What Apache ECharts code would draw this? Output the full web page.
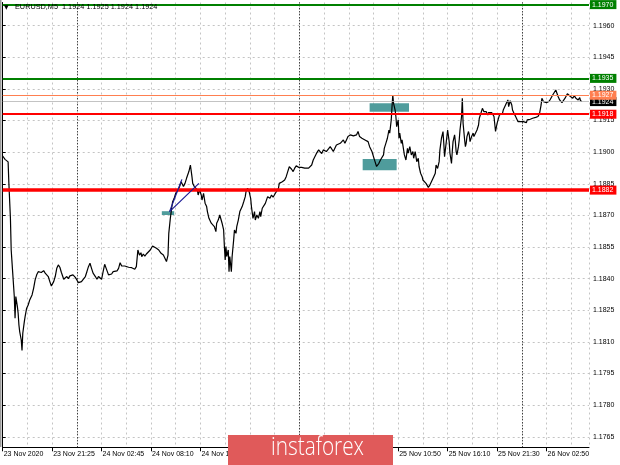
<!DOCTYPE html>
<html><head><meta charset="utf-8">
<script src="https://cdn.jsdelivr.net/npm/echarts@6/dist/echarts.min.js"></script>
<style>html,body{margin:0;padding:0;background:#fff}#c{width:620px;height:465px}</style>
</head><body><div id="c"></div>
<script>
// ---- data (bar index from first visible M5 bar, close price) ----
const barIndex = [0,2,3,5,7,8,10,11,13,15,16,17,19,20,21,22,24,25,26,28,29,31,33,35,38,40,42,44,46,48,50,53,55,57,59,61,63,66,68,70,72,74,76,79,81,83,85,87,89,91,94,96,98,100,102,104,107,109,111,113,115,117,120,122,124,126,128,130,132,135,137,139,141,143,145,148,150,152,154,156,158,160,163,165,167,169,171,173,175,177,179,180,182,184,186,
188,191,194,196,199,202,205,208,210,212,214,215,217,219,220,222,224,226,227,229,231,233,234,236,238,239,241,243,245,246,248,250,252,253,255,257,258,260,262,264,265,267,269,270,272,274,276,277,279,281,283,284,286,287,288,289,290,292,293,294,296,297,299,300,302,303,305,307,308,310,312,314,315,317,319,321,322,324,326,327,329,331,333,334,336,338,340,341,343,345,346,348,350,352,353,355,357,358,360,362,364,365,367,369,371,
374,376,378,380,383,385,387,389,391,393,396,398,400,402,404,406,409,411,413,415,417,419,421,424,426,428,430,432,434,437,439,441,443,445,447,450,452,454,456,458,460,462,465,467,469,471,473,475,478,480,482,484,486,487,489,491,493,494,496,498,500,501,503,504,505,506,508,509,510,512,513,514,516,517,519,520,522,524,525,527,529,531,532,534,536,538,539,541,543,544,546,548,550,551,553,555,556,558,
560,561,563,565,566,568,570,571,572,574,576,577,578,579,581,582,583,585,586,587,588,590,591,592,594,595,596,598,599,600,601,603,604,605,607,609,610,612,614,616,617,619,621,623,624,626,628,629,631,633,635,636,638,640,642,643,645,647,648,650,652,654,655,657,659,660,662,664,666,667,669,671,673,674,676,678,679,681,683,685,686,688,690,692,693,695,697,698,700,702,704,705,707,709,711,712,714,716,717,719,721,723,724,726,728,730,731,733,735,736,738,740,742,743,745,747,748,750];
const closePrice = [1.18982,1.18976,1.18966,1.18960,1.18954,1.18852,1.18686,1.18536,1.18425,1.18315,1.18212,1.18315,1.18267,1.18236,1.18180,1.18149,1.18109,1.18059,1.18141,1.18196,1.18220,1.18260,1.18275,1.18299,1.18323,1.18354,1.18394,1.18418,1.18433,1.18441,1.18429,1.18438,1.18426,1.18429,1.18410,1.18386,1.18365,1.18386,1.18410,1.18449,1.18465,1.18454,1.18429,1.18397,1.18391,1.18410,1.18400,1.18413,1.18406,1.18418,1.18406,1.18394,1.18381,1.18375,1.18386,1.18394,1.18410,1.18433,1.18457,1.18473,1.18449,1.18426,1.18410,1.18397,1.18410,1.18418,1.18397,1.18433,1.18468,1.18438,1.18418,1.18425,1.18422,1.18433,1.18425,1.18437,1.18449,1.18476,1.18460,1.18454,1.18460,1.18465,1.18454,1.18449,1.18452,1.18449,1.18445,1.18457,1.18536,1.18512,1.18523,1.18504,1.18517,1.18507,1.18517,
1.18520,1.18536,1.18555,1.18560,1.18544,1.18536,1.18520,1.18512,1.18497,1.18481,1.18512,1.18615,1.18686,1.18742,1.18765,1.18781,1.18805,1.18797,1.18821,1.18837,1.18860,1.18852,1.18837,1.18852,1.18876,1.18884,1.18908,1.18939,1.18884,1.18852,1.18837,1.18844,1.18821,1.18797,1.18821,1.18797,1.18773,1.18805,1.18758,1.18742,1.18718,1.18686,1.18678,1.18663,1.18671,1.18647,1.18623,1.18663,1.18678,1.18702,1.18694,1.18663,1.18631,1.18552,1.18489,1.18552,1.18505,1.18536,1.18433,1.18505,1.18433,1.18505,1.18584,1.18631,1.18615,1.18647,1.18678,1.18718,1.18726,1.18742,1.18765,1.18789,1.18813,1.18829,1.18813,1.18781,1.18742,1.18686,1.18718,1.18678,1.18702,1.18686,1.18718,1.18694,1.18734,1.18726,1.18757,1.18750,1.18789,1.18797,1.18781,1.18797,1.18786,1.18789,1.18805,1.18797,1.18829,1.18852,1.18844,1.18860,1.18852,1.18868,1.18884,1.18908,1.18931,
1.18919,1.18908,1.18924,1.18935,1.18928,1.18932,1.18928,1.18935,1.18924,1.18928,1.18924,1.18916,1.18939,1.18963,1.18971,1.18993,1.19011,1.19007,1.18993,1.19011,1.19018,1.19003,1.19011,1.19026,1.19018,1.19003,1.19011,1.19034,1.19026,1.19042,1.19050,1.19058,1.19042,1.19058,1.19074,1.19082,1.19090,1.19077,1.19071,1.19082,1.19098,1.19074,1.19066,1.19074,1.19058,1.19050,1.19050,1.19026,1.19003,1.18979,1.18955,1.18932,1.18928,1.18947,1.18963,1.18971,1.18987,1.19018,1.19042,1.19066,1.19105,1.19090,1.19153,1.19216,1.19271,1.19232,1.19200,1.19169,1.19121,1.19153,1.19066,1.19090,1.19042,1.19058,1.19011,1.18987,1.18963,1.19018,1.18995,1.19026,1.18987,1.19003,1.18971,1.19003,1.18955,1.18971,1.18932,1.18900,1.18884,1.18868,1.18860,1.18852,1.18844,1.18833,1.18844,1.18860,1.18868,1.18884,
1.18900,1.18939,1.18923,1.18955,1.19011,1.19066,1.19098,1.19042,1.18979,1.19042,1.19105,1.19113,1.19050,1.18995,1.18947,1.19003,1.19050,1.19082,1.19050,1.19003,1.18987,1.19026,1.19058,1.19105,1.19169,1.19256,1.19137,1.19058,1.19026,1.19042,1.19074,1.19098,1.19082,1.19050,1.19074,1.19090,1.19074,1.19090,1.19105,1.19129,1.19161,1.19184,1.19208,1.19192,1.19184,1.19192,1.19176,1.19188,1.19181,1.19188,1.19192,1.19169,1.19098,1.19137,1.19145,1.19176,1.19169,1.19184,1.19200,1.19208,1.19232,1.19248,1.19216,1.19244,1.19224,1.19200,1.19184,1.19169,1.19161,1.19145,1.19137,1.19145,1.19137,1.19145,1.19150,1.19140,1.19153,1.19145,1.19156,1.19153,1.19161,1.19156,1.19165,1.19172,1.19169,1.19184,1.19224,1.19256,1.19240,1.19248,1.19235,1.19244,1.19240,1.19251,1.19256,1.19271,1.19279,1.19295,1.19287,1.19264,1.19248,1.19240,1.19235,1.19240,1.19256,1.19264,1.19277,1.19283,1.19264,1.19271,1.19256,1.19267,1.19256,1.19264,1.19248,1.19259,1.19244,1.19240];

const priceTicks = [1.1765,1.1780,1.1795,1.1810,1.1825,1.1840,1.1855,1.1870,1.1885,1.1900,1.1915,1.1930,1.1945,1.1960];
const timeTickBars = [0,64,128,192,256,320,384,448,512,576,640,704];
const timeTickLabels = ['23 Nov 2020','23 Nov 21:25','24 Nov 02:45','24 Nov 08:10','24 Nov 13:30','24 Nov 18:50','25 Nov 00:10','25 Nov 05:30','25 Nov 10:50','25 Nov 16:10','25 Nov 21:30','26 Nov 02:50'];
const daySeparators = [96,384,672];
const supportLevels = [1.1918,1.1882];      // red
const resistanceLevels = [1.1970,1.1935];   // green
const pivotLevel = 1.1927;                   // orange
const bidPrice = 1.1924;
const quote = ['1.1924','1.1925','1.1924','1.1924'];
// zones: [barStart, priceTop, barEnd, priceBottom]
const zoneBoxes = [[206,1.18720,222,1.18702],[475,1.19232,526,1.19192],[466,1.18968,510,1.18914]];
// trend lines: [bar1, price1, bar2, price2]
const trendLines = [[216,1.18718,232,1.18871],[216,1.18718,254,1.18852]];

// ---- chart ----
const FONT = 'Liberation Sans';
const chart = echarts.init(document.getElementById('c'), null, {renderer:'canvas'});
const GREEN = '#008000', RED = '#ff0000', ORANGE = '#ff7f50';

function levelItem(v, color, width, boxColor) {
  return {
    yAxis: v,
    lineStyle: {color: color, width: width, type: 'solid'},
    label: {show: true, position: 'end', distance: 1, formatter: v.toFixed(4),
      color: '#fff', backgroundColor: boxColor || color, padding: [1, 3, 0, 2],
      fontSize: 7, fontFamily: FONT, lineHeight: 8}
  };
}
const markLineData = [];
daySeparators.forEach(b => markLineData.push({xAxis: b, lineStyle: {color: '#000', width: 1, type: [1, 2]}, label: {show: false}}));
markLineData.push(levelItem(bidPrice, '#b4b4b4', 0.8, '#000'));
markLineData.push(levelItem(pivotLevel, ORANGE, 1));
resistanceLevels.forEach(v => markLineData.push(levelItem(v, GREEN, 2)));
markLineData.push(levelItem(supportLevels[0], RED, 2));
markLineData.push(levelItem(supportLevels[1], RED, 3.5));

const trendData = trendLines.map(t => [{coord: [t[0], t[1]]}, {coord: [t[2], t[3]]}]);
const zoneData = zoneBoxes.map(z => [{coord: [z[0], z[1]]}, {coord: [z[2], z[3]]}]);

chart.setOption({
  animation: false,
  backgroundColor: '#fff',
  textStyle: {fontFamily: FONT},
  grid: {left: 2.7, right: 31, top: 2.5, bottom: 17.7},
  xAxis: {
    type: 'value', min: 0, max: 759, interval: 64,
    axisLine: {show: true, onZero: false, lineStyle: {color: '#000', width: 1}},
    axisTick: {show: true, length: 4, lineStyle: {color: '#000'}},
    axisLabel: {show: true, fontSize: 7, fontFamily: FONT, color: '#000', align: 'left', margin: 3, padding: [0, 0, 0, 1],
      showMinLabel: true, showMaxLabel: false, hideOverlap: false,
      formatter: v => { const k = timeTickBars.indexOf(v); return k >= 0 ? timeTickLabels[k] : ''; }},
    splitLine: {show: true, lineStyle: {color: '#c4c4c4', type: [2, 3], width: 1}},
    minorTick: {show: false, splitNumber: 2},
    minorSplitLine: {show: true, lineStyle: {color: '#c4c4c4', type: [2, 3], width: 1}}
  },
  yAxis: {
    type: 'value', position: 'right', min: 1.1760, max: 1.1971,
    axisLine: {show: true, lineStyle: {color: '#000', width: 1}},
    axisTick: {show: true, length: 3, customValues: priceTicks, lineStyle: {color: '#000'}},
    axisLabel: {show: true, customValues: priceTicks, fontSize: 7, fontFamily: FONT, color: '#000', margin: 4,
      formatter: v => v.toFixed(4)},
    splitLine: {show: true, lineStyle: {color: '#c4c4c4', type: [2, 3], width: 1}}
  },
  series: [
    {
      type: 'line', name: 'EURUSD,M5', data: barIndex.map((b, k) => [b, closePrice[k]]),
      showSymbol: false, symbol: 'none', lineStyle: {color: '#000', width: 1.2}, z: 4, silent: true,
      markArea: {silent: true, itemStyle: {color: '#4f9c9c'}, data: zoneData}
    },
    {
      type: 'line', name: 'levels', data: [], z: 3, silent: true,
      markLine: {silent: true, symbol: ['none', 'none'], precision: 4, animation: false, data: markLineData}
    },
    {
      type: 'line', name: 'trend', data: [], z: 5, silent: true,
      markLine: {silent: true, symbol: ['none', 'none'], label: {show: false},
        lineStyle: {color: '#1c1c96', width: 1.2, type: 'solid'}, data: trendData}
    }
  ],
  graphic: [
    {type: 'rect', left: 0, top: 0, shape: {width: 1.5, height: 447}, style: {fill: '#9a9a9a'}, z: 10},
    {type: 'text', left: 4, top: 4, style: {text: '\u25BC', fontSize: 6, fill: '#000', fontFamily: 'DejaVu Sans'}, z: 10},
    {type: 'text', left: 15, top: 3.5, style: {text: 'EURUSD,M5  ' + quote.join(' '), fontSize: 7.3, fill: '#000', fontFamily: FONT}, z: 10},
    {type: 'rect', left: 228, top: 435, shape: {width: 165, height: 30}, style: {fill: '#e05a5a'}, z: 20},
    {type: 'text', x: 271, y: 435, scaleX: 0.8, scaleY: 1, style: {text: 'instaforex', fontSize: 26, fill: '#fff', fontFamily: 'Open Sans', fontWeight: 300}, z: 21}
  ]
});
</script></body></html>
